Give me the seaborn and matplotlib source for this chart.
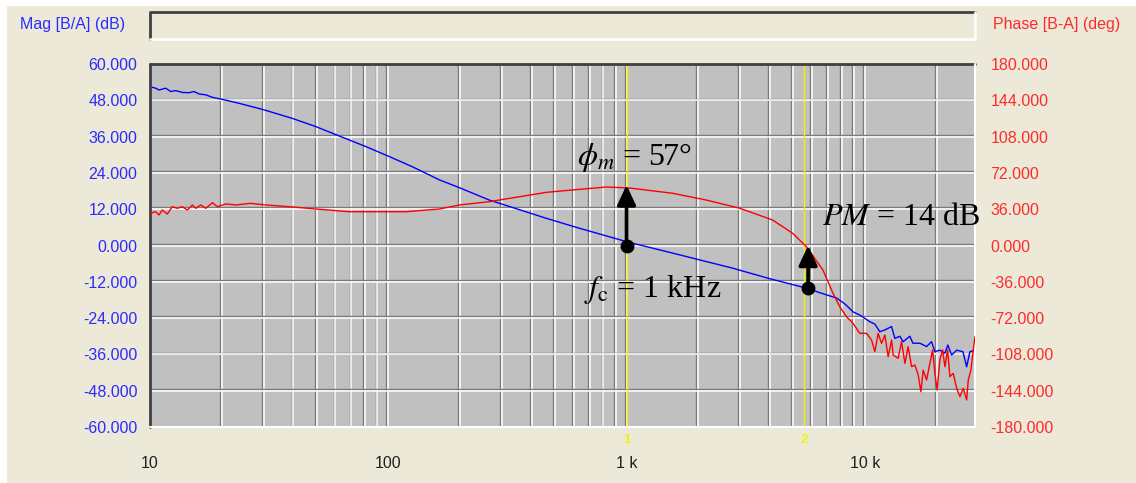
import matplotlib
matplotlib.use("Agg")
import matplotlib.pyplot as plt
import matplotlib.transforms as mtransforms
from matplotlib.lines import Line2D
from matplotlib.patches import Rectangle
from matplotlib.ticker import NullLocator
import seaborn as sns

# ---------------- measured loop response ----------------
mag_freq = [10, 10.57, 10.91, 11.64, 12.22, 12.82, 13.67, 14.58, 15.30, 16.06,
            17.14, 18.27, 20.13, 23.66, 29.64, 39.64, 49.7, 62.25, 80.57, 101.0,
            126.5, 163.8, 199, 266, 460, 634, 1029, 1470, 2790, 4000,
            5761, 6470, 7630, 8300, 8910, 9530, 10500, 11020, 11560, 12140,
            12950, 13370, 14030, 14480, 15450, 15910, 17020, 18160, 19060, 19680,
            20650, 21680, 22310, 23130, 24290, 25810, 26750, 27610, 28990]
mag_db = [52.5, 52.0, 51.4, 52.0, 50.9, 51.2, 50.6, 50.5, 50.9, 50.1,
          49.8, 49.0, 48.3, 47.0, 45.0, 42.0, 39.3, 36.2, 32.7, 29.4,
          26.0, 21.7, 19.1, 15.0, 9.0, 5.7, 1.0, -2.0, -7.5, -11.0,
          -14.2, -15.6, -17.4, -19.5, -21.9, -23.0, -25.2, -26.0, -28.5, -27.9,
          -26.8, -30.7, -30.0, -31.8, -30.0, -32.3, -32.3, -33.4, -31.8, -35.1,
          -34.6, -35.6, -32.9, -36.2, -34.6, -35.1, -40.1, -35.1, -34.6]

phase_freq = [10, 10.57, 10.91, 11.26, 11.82, 12.41, 13.02, 13.67, 14.35, 15.06,
              15.56, 16.33, 17.14, 18.27, 19.18, 20.80, 22.92, 26.49, 30.62, 38.37,
              49.69, 68.58, 91.6, 118.7, 163.8, 199, 266, 460, 634, 822,
              1029, 1560, 2160, 2990, 4100, 4980, 5690, 6670, 7340, 7850,
              8370, 8910, 9530, 10170, 10670, 11020, 11370, 11750, 12140, 12530,
              12950, 13150, 13800, 14260, 14730, 15200, 15710, 16220, 16750, 17190,
              17580, 18160, 18750, 19250, 19680, 20120, 20650, 21200, 21680, 22250,
              22750, 23500, 24290, 25070, 25880, 26750, 27170, 27880, 28510, 28990]
phase_deg = [31.9, 33.5, 30.3, 35.2, 31.2, 38.5, 36.9, 38.5, 35.2, 40.2,
             36.9, 40.2, 36.9, 42.5, 38.5, 41.2, 40.2, 41.8, 40.2, 38.5,
             36.2, 33.5, 33.5, 33.5, 36.2, 40.2, 43.5, 52.7, 55.7, 58.0,
             57.0, 51.8, 45.1, 36.9, 25.3, 12.1, -1.2, -24.3, -47.0, -60.7,
             -70.6, -77.0, -87.1, -87.1, -93.7, -105.3, -87.1, -97.0, -88.8, -110.3,
             -93.7, -108.6, -111.9, -95.3, -116.9, -100.3, -120.2, -118.5, -128.4, -145.0,
             -123.5, -133.4, -116.9, -103.6, -126.8, -143.3, -113.5, -103.6, -120.2, -103.6,
             -130.1, -126.8, -141.6, -149.9, -141.6, -153.2, -133.4, -123.5, -103.6, -90.4]

mag_ticks = [60, 48, 36, 24, 12, 0, -12, -24, -36, -48, -60]
phase_ticks = [180, 144, 108, 72, 36, 0, -36, -72, -108, -144, -180]
freq_ticks = [10, 100, 1000, 10000]
freq_labels = ["10", "100", "1 k", "10 k"]
grid_freqs = [m * 10 ** d for d in range(1, 5) for m in range(1, 10) if m * 10 ** d < 29000]

cursor_freqs = [1000, 5560]
cursor_names = ["1", "2"]

fc_freq, fc_db = 1000, 0          # gain crossover
phase_margin = 57                 # phase at crossover (deg)
pm_freq, pm_db = 5780, -14        # gain at phase = 0

# ---------------- styling ----------------
sns.set_style("white")
plt.rcParams["font.family"] = ["Liberation Sans", "DejaVu Sans"]
plt.rcParams["mathtext.fontset"] = "stix"
plt.rcParams["text.color"] = "black"

BEIGE = "#ECE9D8"
PLOT_BG = "#C0C0C0"
BLUE = "#0000FF"
RED = "#FF0000"
BLUE_TXT = "#2B2BFF"
RED_TXT = "#FF2B2B"
DARK = "#7A7A7A"

W, H = 1136, 483
fig = plt.figure(figsize=(W / 100, H / 100), dpi=100, facecolor="white")
fig.patches.append(Rectangle((7 / W, 0), 1, 1 - 6 / H, transform=fig.transFigure,
                             facecolor=BEIGE, edgecolor="none", zorder=-10))

ax = fig.add_axes([150 / W, 1 - 427 / H, 825 / W, 363 / H])
ax.set_facecolor(PLOT_BG)
ax.set_xscale("log")
ax.set_xlim(10, 29000)
ax.set_ylim(-60, 60)
for s in ax.spines.values():
    s.set_visible(False)

# two-tone grid: dark rule with a white highlight beside it
px = 1 / 100
off_left = mtransforms.ScaledTranslation(-1.8 * px, 0, fig.dpi_scale_trans)
off_up = mtransforms.ScaledTranslation(0, 1.8 * px, fig.dpi_scale_trans)
xt = ax.get_xaxis_transform()
yt = ax.get_yaxis_transform()
ax.vlines(grid_freqs, 0, 1, transform=xt + off_left, colors=DARK, lw=1.0, zorder=1)
ax.vlines(grid_freqs, 0, 1, transform=xt, colors="white", lw=1.1, zorder=1)
ax.hlines(mag_ticks[1:-1], 0, 1, transform=yt + off_up, colors=DARK, lw=1.0, zorder=1)
ax.hlines(mag_ticks[1:-1], 0, 1, transform=yt, colors="white", lw=1.1, zorder=1)

# cursors
for f, name in zip(cursor_freqs, cursor_names):
    ax.axvline(f, color="#F2F200", lw=1.0, zorder=1.5)
    ax.text(f, -0.035, name, transform=xt, ha="center", va="center",
            color="#F2F200", fontsize=9.5, fontweight="bold")

# frame: sunken look
frame = [((0, 0), (0, 1), "#404040", 2.0), ((0, 1), (1, 1), "#404040", 2.0),
         ((1, 1), (1, 0), "white", 1.5), ((1, 0), (0, 0), "white", 1.5)]
for (x0, y0), (x1, y1), c, lw in frame:
    ax.add_line(Line2D([x0, x1], [y0, y1], transform=ax.transAxes, color=c,
                       lw=lw, clip_on=False, zorder=5))

sns.lineplot(x=mag_freq, y=mag_db, ax=ax, color=BLUE, lw=1.0,
             estimator=None, sort=False, zorder=3)

ax2 = ax.twinx()
ax2.set_ylim(-180, 180)
ax2.patch.set_visible(False)
for s in ax2.spines.values():
    s.set_visible(False)
sns.lineplot(x=phase_freq, y=phase_deg, ax=ax2, color=RED, lw=1.0,
             estimator=None, sort=False, zorder=3)
ax.set_xlim(10, 29000)

# ticks
ax.set_yticks(mag_ticks)
ax.set_yticklabels([f"{v:.3f}" for v in mag_ticks])
ax.tick_params(axis="y", length=0, pad=9, labelcolor=BLUE_TXT, labelsize=11.5)
ax2.set_yticks(phase_ticks)
ax2.set_yticklabels([f"{v:.3f}" for v in phase_ticks])
ax2.tick_params(axis="y", length=0, pad=11, labelcolor=RED_TXT, labelsize=11.5)
ax.set_xticks(freq_ticks)
ax.set_xticklabels(freq_labels)
ax.xaxis.set_minor_locator(NullLocator())
ax.tick_params(axis="x", length=0, pad=21, labelcolor="#202020", labelsize=11.5)
ax.set_xlabel("")
ax.set_ylabel("")
ax2.set_ylabel("")

# header strip
bx, by, bw, bh = 150 / W, 1 - 39 / H, 825 / W, 27 / H
fig.patches.append(Rectangle((bx, by), bw, bh, transform=fig.transFigure,
                             facecolor=BEIGE, edgecolor="none", zorder=1))
for xs, ys, c, lw in [([bx, bx, bx + bw], [by, by + bh, by + bh], "#404040", 2.0),
                      ([bx, bx + bw, bx + bw], [by, by, by + bh], "white", 1.8)]:
    fig.add_artist(Line2D(xs, ys, transform=fig.transFigure, color=c, lw=lw, zorder=2))
fig.text(20 / W, 1 - 25 / H, "Mag [B/A] (dB)", color=BLUE_TXT, fontsize=11.5,
         ha="left", va="center")
fig.text(993 / W, 1 - 25 / H, "Phase [B-A] (deg)", color=RED_TXT, fontsize=11.5,
         ha="left", va="center")

# margin annotations
arrow = dict(arrowstyle="-|>,head_length=0.6,head_width=0.28", lw=2.6,
             color="black", mutation_scale=20, shrinkA=0, shrinkB=0)
ax2.annotate("", xy=(fc_freq, phase_margin + 3), xycoords="data",
             xytext=(fc_freq, fc_db), textcoords=ax.transData,
             arrowprops=arrow, zorder=6, annotation_clip=False)
ax2.annotate("", xy=(pm_freq, 0), xycoords=ax.transData,
             xytext=(pm_freq, pm_db), textcoords=ax.transData,
             arrowprops=arrow, zorder=6, annotation_clip=False)
ax2.plot([fc_freq, pm_freq], [fc_db, pm_db], "o", color="black", ms=9,
         transform=ax.transData, zorder=7)

serif = ["Liberation Serif", "DejaVu Serif"]
ax.text(622, 26.6, rf"$\phi_m$ = {phase_margin}°", fontsize=23, family=serif,
        color="black", ha="left", va="baseline", zorder=8)
ax.text(666, -16.9, r"$f_\mathrm{c}$ = 1 kHz", fontsize=23, family=serif,
        color="black", ha="left", va="baseline", zorder=8)
ax.text(6580, 6.8, rf"$PM$ = {abs(pm_db)} dB", fontsize=23, family=serif,
        color="black", ha="left", va="baseline", zorder=8, clip_on=False)

fig.savefig("out.png", dpi=100, facecolor=fig.get_facecolor())
